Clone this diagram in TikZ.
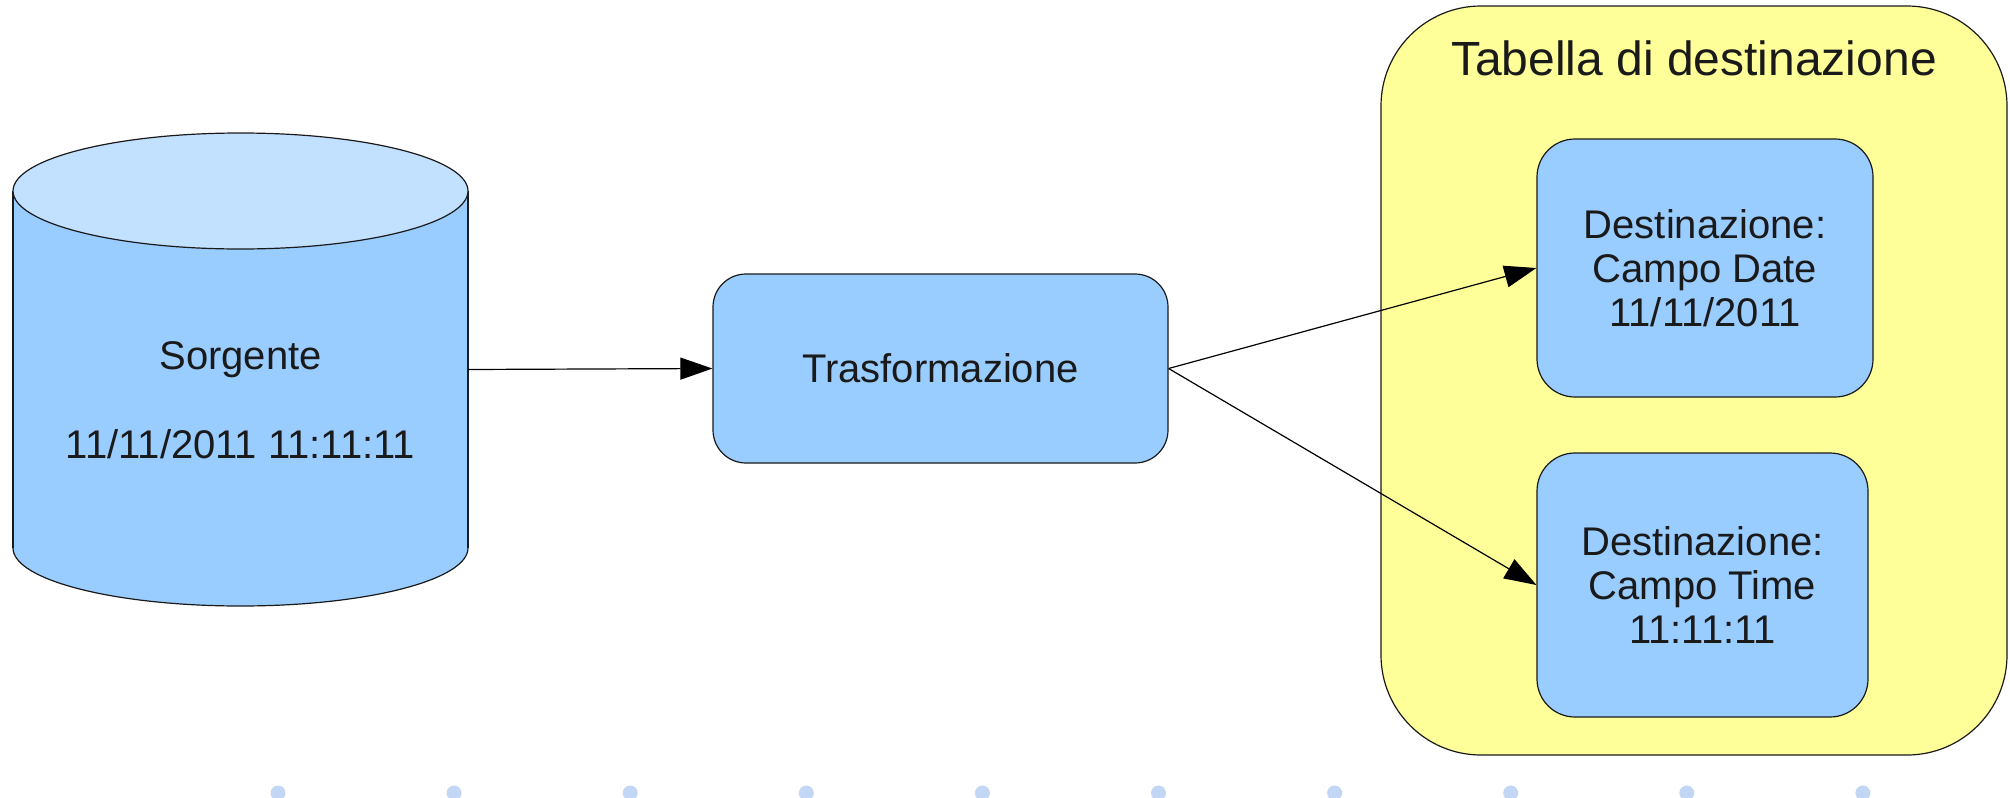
\documentclass[tikz,border=0pt]{standalone}
\usepackage{fontspec}
\setmainfont{Liberation Sans}
\usetikzlibrary{arrows.meta}
\definecolor{boxblue}{HTML}{99CCFF}
\definecolor{capblue}{HTML}{C2E0FF}
\definecolor{paleyellow}{HTML}{FFFF99}
\definecolor{dotblue}{HTML}{C3D7F4}
\definecolor{ink}{HTML}{1A1A1A}
\tikzset{
  outline/.style={draw=ink, line width=0.6pt},
  bluebox/.style={outline, fill=boxblue, rounded corners=#1, inner sep=0pt,
    align=center, text=ink, font=\fontsize{20}{22}\selectfont},
  label/.style={text=ink, font=\fontsize{20}{22}\selectfont, inner sep=0pt},
  conn/.style={draw=black, line width=0.6pt, -{Triangle[length=16pt,width=11pt]}},
}
\begin{document}
\begin{tikzpicture}[x=0.5pt, y=-0.5pt]
  \useasboundingbox (0,0) rectangle (2010,798);

  % database cylinder: bottom cap, body, side lines, top cap
  \filldraw[outline, fill=boxblue] (240.5,548) ellipse [x radius=113.75pt, y radius=29pt];
  \fill[boxblue] (13,191) rectangle (468,548);
  \draw[outline] (13,191) -- (13,548);
  \draw[outline] (468,191) -- (468,548);
  \filldraw[outline, fill=capblue] (240.5,191) ellipse [x radius=113.75pt, y radius=29pt];
  \node[inner sep=0pt, minimum width=227.5pt, minimum height=236.5pt] (src) at (240.5,369.5) {};
  \node[label, anchor=base] (srcname) at (240.5,369) {Sorgente};
  \node[label, anchor=base] (srcvalue) at (240.5,458) {11/11/2011 11:11:11};

  % transformation step
  \node[bluebox=16.5pt, minimum width=227.5pt, minimum height=94.5pt] (tr) at (940.5,368.5) {Trasformazione};

  % destination table
  \node[outline, fill=paleyellow, rounded corners=50pt, inner sep=0pt,
        minimum width=313pt, minimum height=374.5pt] (table) at (1694,380.5) {};
  \node[text=ink, font=\fontsize{24}{28}\selectfont, inner sep=0pt, anchor=base] (tabletitle) at (1694,75) {Tabella di destinazione};
  \node[bluebox=19pt, minimum width=168pt, minimum height=129pt] (date) at (1705,268)
    {Destinazione:\\Campo Date\\11/11/2011};
  \node[bluebox=19pt, minimum width=165.5pt, minimum height=132pt] (time) at (1702.5,585)
    {Destinazione:\\Campo Time\\11:11:11};

  % connectors
  \draw[conn] (src.east) -- (tr.west);
  \draw[conn] (tr.east) -- (date.west);
  \draw[conn] (tr.east) -- (time.west);

  % page dots along the bottom edge
  \foreach \i in {0,...,9}
    \fill[dotblue] (278+176.1*\i,793) circle [radius=3.75pt];
\end{tikzpicture}
\end{document}
